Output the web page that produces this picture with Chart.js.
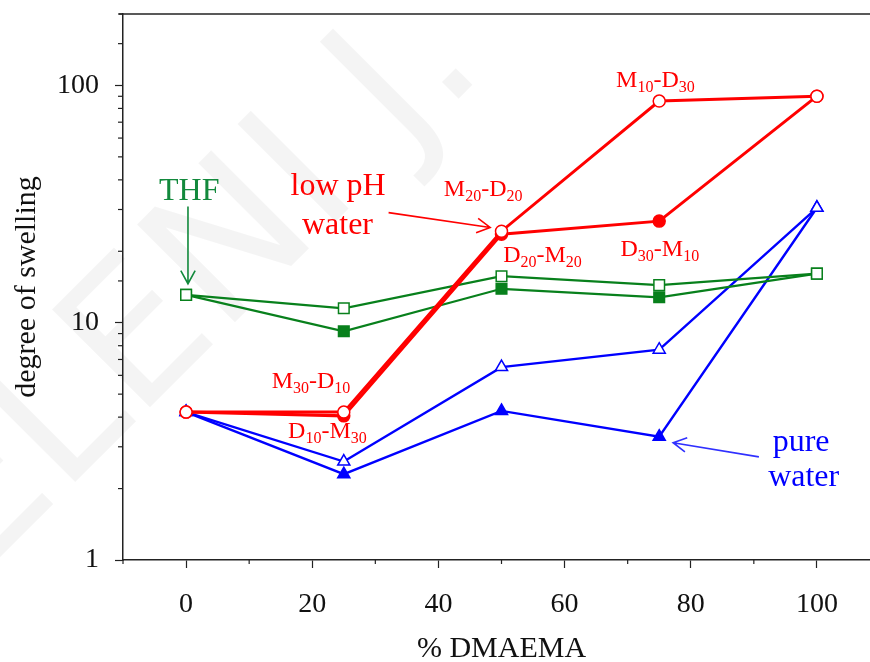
<!DOCTYPE html>
<html>
<head>
<meta charset="utf-8">
<script src="https://cdn.jsdelivr.net/npm/chart.js@4/dist/chart.umd.min.js"></script>
<style>
  html, body { margin: 0; padding: 0; overflow: hidden; background: #ffffff; }
  #wrap { position: relative; width: 889px; height: 662px; }
</style>
</head>
<body>
<div id="wrap"><canvas id="c" width="889" height="662"></canvas></div>
<script>
// % DMAEMA in the copolymer
const dmaema = [0, 25, 50, 75, 100];

// degree of swelling, low pH water
const lowPhMD = [4.2, 4.2, 24.3, 85.9, 90.1];   // M-D sequence (open circles)
const lowPhDM = [4.2, 4.05, 23.6, 26.8, 90.1];  // D-M sequence (filled circles)

// degree of swelling, THF
const thfMD = [13.1, 11.5, 15.7, 14.4, 16.1];   // open squares
const thfDM = [13.1, 9.2, 13.9, 12.8, 16.1];    // filled squares

// degree of swelling, pure water
const waterMD = [4.2, 2.6, 6.5, 7.7, 30.5];     // open triangles
const waterDM = [4.2, 2.3, 4.25, 3.31, 30.5];   // filled triangles

// labelled axis ticks
const xTickLabels = [0, 20, 40, 60, 80, 100];
const yTickLabels = [1, 10, 100];

const RED = '#ff0000';
const GREEN = '#08801c';
const GREEN_TEXT = '#12893c';
const BLUE = '#0000ff';
const AXIS = '#222222';
const SERIF = '"Liberation Serif", "DejaVu Serif", serif';

const pts = (ys) => dmaema.map((x, i) => ({ x: x, y: ys[i] }));

// annotation texts, placed in data coordinates (x: % DMAEMA, y: swelling)
const seqLabels = [
  { parts: [['M', 0], ['10', 1], ['-', 0], ['D', 0], ['30', 1]], x: 74.4, y: 106 },
  { parts: [['M', 0], ['20', 1], ['-', 0], ['D', 0], ['20', 1]], x: 47.1, y: 37.1 },
  { parts: [['D', 0], ['20', 1], ['-', 0], ['M', 0], ['20', 1]], x: 56.5, y: 19.4 },
  { parts: [['D', 0], ['30', 1], ['-', 0], ['M', 0], ['10', 1]], x: 75.1, y: 20.7 },
  { parts: [['M', 0], ['30', 1], ['-', 0], ['D', 0], ['10', 1]], x: 19.8, y: 5.75 },
  { parts: [['D', 0], ['10', 1], ['-', 0], ['M', 0], ['30', 1]], x: 22.4, y: 3.54 }
];
const mediumLabels = [
  { text: 'low pH', x: 24.1, y: 37.5, color: RED },
  { text: 'water', x: 24.0, y: 25.7, color: RED },
  { text: 'THF', x: 0.5, y: 35.7, color: GREEN_TEXT },
  { text: 'pure', x: 97.5, y: 3.12, color: BLUE },
  { text: 'water', x: 97.9, y: 2.22, color: BLUE }
];
const arrows = [
  { x1: 32.1, y1: 29.1, x2: 48.2, y2: 25.2, color: RED },
  { x1: 0.3, y1: 30.9, x2: 0.3, y2: 14.6, color: GREEN_TEXT },
  { x1: 90.8, y1: 2.72, x2: 77.2, y2: 3.12, color: '#3030ff' }
];

const annotate = {
  id: 'annotate',
  beforeDraw(chart) {
    const ctx = chart.ctx;
    // faint watermark behind the plot
    ctx.save();
    ctx.translate(190, 255);
    ctx.rotate(-Math.PI / 4);
    ctx.fillStyle = 'rgba(0,0,0,0.045)';
    ctx.font = '190px "DejaVu Sans", sans-serif';
    ctx.textAlign = 'center';
    ctx.textBaseline = 'middle';
    ctx.fillText('ELENI J.', -20, 30);
    ctx.restore();
  },
  afterDraw(chart) {
    const ctx = chart.ctx;
    const xs = chart.scales.x, ys = chart.scales.y;
    const area = chart.chartArea;
    ctx.save();

    // top frame line
    ctx.strokeStyle = AXIS;
    ctx.lineWidth = 1.5;
    ctx.beginPath();
    ctx.moveTo(area.left - 4, area.top);
    ctx.lineTo(area.right, area.top);
    ctx.stroke();

    // minor tick marks
    ctx.lineWidth = 1.2;
    xs.ticks.forEach(t => {
      if (xTickLabels.includes(t.value)) return;
      const px = xs.getPixelForValue(t.value);
      ctx.beginPath();
      ctx.moveTo(px, area.bottom);
      ctx.lineTo(px, area.bottom + 4);
      ctx.stroke();
    });
    ys.ticks.forEach(t => {
      if (yTickLabels.includes(t.value)) return;
      const py = ys.getPixelForValue(t.value);
      ctx.beginPath();
      ctx.moveTo(area.left - 5, py);
      ctx.lineTo(area.left, py);
      ctx.stroke();
    });

    // sequence labels with subscripts
    const mainSize = 24, subSize = 16;
    ctx.fillStyle = RED;
    ctx.textBaseline = 'alphabetic';
    ctx.textAlign = 'left';
    seqLabels.forEach(l => {
      let w = 0;
      l.parts.forEach(([s, sub]) => {
        ctx.font = (sub ? subSize : mainSize) + 'px ' + SERIF;
        w += ctx.measureText(s).width;
      });
      let cx = xs.getPixelForValue(l.x) - w / 2;
      const base = ys.getPixelForValue(l.y) + mainSize * 0.33;
      l.parts.forEach(([s, sub]) => {
        ctx.font = (sub ? subSize : mainSize) + 'px ' + SERIF;
        ctx.fillText(s, cx, sub ? base + 5 : base);
        cx += ctx.measureText(s).width;
      });
    });

    // medium labels
    ctx.font = '32px ' + SERIF;
    ctx.textAlign = 'center';
    ctx.textBaseline = 'middle';
    mediumLabels.forEach(l => {
      ctx.fillStyle = l.color;
      ctx.fillText(l.text, xs.getPixelForValue(l.x), ys.getPixelForValue(l.y));
    });

    // pointer arrows with open heads
    ctx.lineWidth = 1.6;
    arrows.forEach(a => {
      const x1 = xs.getPixelForValue(a.x1), y1 = ys.getPixelForValue(a.y1);
      const x2 = xs.getPixelForValue(a.x2), y2 = ys.getPixelForValue(a.y2);
      const ang = Math.atan2(y2 - y1, x2 - x1);
      const hl = 15, hw = 0.5;
      ctx.strokeStyle = a.color;
      ctx.beginPath();
      ctx.moveTo(x1, y1);
      ctx.lineTo(x2, y2);
      ctx.moveTo(x2 - hl * Math.cos(ang - hw), y2 - hl * Math.sin(ang - hw));
      ctx.lineTo(x2, y2);
      ctx.lineTo(x2 - hl * Math.cos(ang + hw), y2 - hl * Math.sin(ang + hw));
      ctx.stroke();
    });
    ctx.restore();
  }
};

const series = (data, color, width, style, radius, filled) => ({
  data: pts(data),
  borderColor: color,
  borderWidth: width,
  pointStyle: style,
  pointRadius: radius,
  pointHoverRadius: radius,
  pointBackgroundColor: filled ? color : '#ffffff',
  pointBorderColor: color,
  pointBorderWidth: 1.5,
  tension: 0,
  fill: false
});

new Chart(document.getElementById('c'), {
  type: 'line',
  data: {
    datasets: [
      series(lowPhMD, RED, 3, 'circle', 6, false),
      series(lowPhDM, RED, 3, 'circle', 6, true),
      series(thfMD, GREEN, 2.2, 'rect', 7.5, false),
      series(thfDM, GREEN, 2.2, 'rect', 7.5, true),
      series(waterMD, BLUE, 2.4, 'triangle', 7, false),
      series(waterDM, BLUE, 2.4, 'triangle', 7, true)
    ]
  },
  options: {
    responsive: false,
    animation: false,
    events: [],
    layout: { padding: { top: 14, right: 1, bottom: 0, left: 0 } },
    plugins: { legend: { display: false }, tooltip: { enabled: false } },
    scales: {
      x: {
        type: 'linear',
        position: 'bottom',
        min: -10,
        max: 110,
        afterFit: s => { s.height = 102; s.paddingLeft = 0; s.paddingRight = 0; },
        border: { color: AXIS, width: 1.5 },
        grid: {
          drawOnChartArea: false,
          tickLength: 8,
          tickWidth: 1.2,
          tickColor: c => xTickLabels.includes(c.tick.value) ? AXIS : 'rgba(0,0,0,0)'
        },
        ticks: {
          stepSize: 10,
          autoSkip: false,
          maxRotation: 0,
          padding: 20,
          color: '#111111',
          font: { family: SERIF, size: 28 },
          callback: v => xTickLabels.includes(v) ? String(v) : ''
        },
        title: {
          display: true,
          text: '% DMAEMA',
          color: '#111111',
          font: { family: SERIF, size: 30, lineHeight: 1 },
          padding: { top: 0, bottom: -2 }
        }
      },
      y: {
        type: 'logarithmic',
        min: 1,
        max: 200,
        afterFit: s => { s.width = 123; s.paddingTop = 0; s.paddingBottom = 0; },
        border: { color: AXIS, width: 1.5 },
        grid: {
          drawOnChartArea: false,
          tickLength: 8,
          tickWidth: 1.2,
          tickColor: c => yTickLabels.includes(c.tick.value) ? AXIS : 'rgba(0,0,0,0)'
        },
        ticks: {
          autoSkip: false,
          padding: 16,
          color: '#111111',
          font: { family: SERIF, size: 28 },
          callback: v => yTickLabels.includes(v) ? String(v) : ''
        },
        title: {
          display: true,
          text: 'degree of swelling',
          color: '#111111',
          font: { family: SERIF, size: 30, lineHeight: 1 },
          padding: { top: 12, bottom: 0 }
        }
      }
    }
  },
  plugins: [annotate]
});
</script>
</body>
</html>
